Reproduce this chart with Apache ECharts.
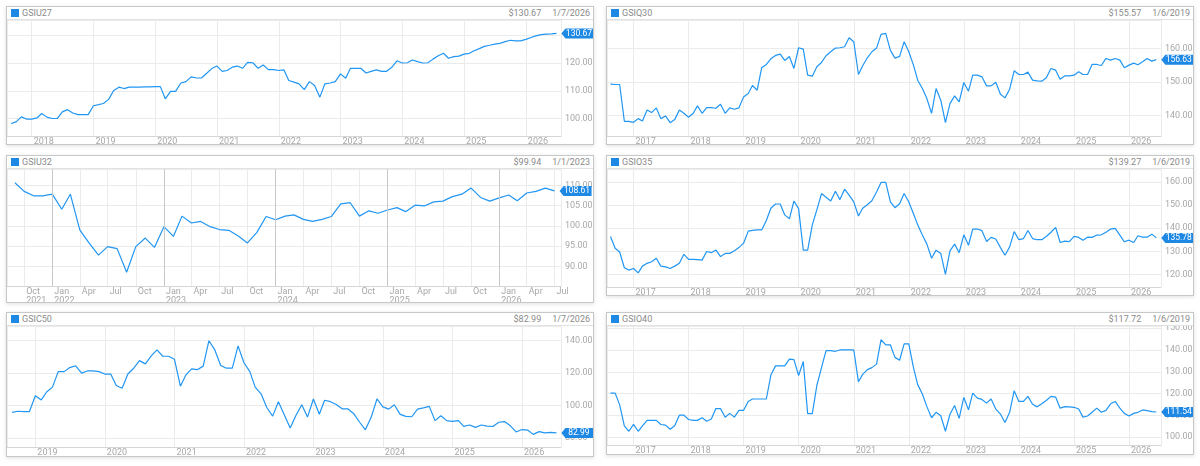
<!DOCTYPE html>
<html>
<head>
<meta charset="utf-8">
<script src="https://cdn.jsdelivr.net/npm/echarts@6/dist/echarts.min.js"></script>
<style>
  html, body { margin: 0; padding: 0; width: 1200px; height: 466px; overflow: hidden; background: #fff; font-family: Roboto, "Noto Sans", sans-serif; }
  .panel { position: absolute; box-sizing: border-box; border: 1px solid #c8c8c8; background: #fff; box-shadow: 0 1px 4px rgba(0,0,0,0.13); }
  .hd { position: relative; height: 12px; border-bottom: 1px solid #e2e2e2; font-size: 9px; line-height: 12px; color: #8a8a8a; }
  .sq { position: absolute; left: 4px; top: 2px; width: 8px; height: 8px; background: #1e88e5; }
  .nm { position: absolute; left: 15px; }
  .rt { position: absolute; right: 3px; }
  .rt span + span { margin-left: 11px; }
  .chart { position: absolute; left: 0; right: 0; bottom: 0; }
</style>
</head>
<body>
<script>
// ---- data (monthly closes) ----
const gsiu27Start = '2017-09';
const gsiu27Values = [
  98.2, 98.8, 100.6, 99.8,
  99.8, 100.2, 101.8, 100.5, 100.0, 100.0, 102.4, 103.2, 102.0, 101.4, 101.4, 101.4,
  104.6, 105.0, 105.4, 106.9, 110.1, 111.3, 110.8, 111.3, 111.3, 111.3, 111.4, 111.4,
  111.5, 111.5, 107.1, 109.8, 109.8, 112.8, 113.3, 115.0, 114.6, 114.6, 116.3, 118.0,
  118.9, 117.0, 117.3, 118.5, 118.9, 118.1, 120.2, 120.1, 118.1, 119.3, 117.6, 117.6,
  117.3, 117.5, 113.7, 113.1, 112.5, 110.4, 113.3, 111.9, 107.7, 112.5, 112.8, 113.3,
  116.1, 114.5, 118.1, 118.1, 118.1, 116.4, 117.0, 117.5, 117.0, 117.0, 118.5, 120.8,
  120.0, 120.1, 121.1, 120.5, 120.0, 120.1, 121.4, 122.6, 123.5, 121.7, 122.3, 122.5,
  123.2, 123.5, 124.4, 125.2, 126.0, 126.4, 126.8, 127.1, 127.7, 128.2, 128.0, 128.0,
  128.5, 129.2, 129.8, 130.2, 130.4, 130.5, 130.67
];

const gsiq30Start = '2016-08';
const gsiq30Values = [
  149.3, 149.2, 149.2, 138.2, 138.2,
  137.9, 139.0, 138.3, 141.6, 140.8, 142.2, 139.0, 139.8, 137.8, 138.7, 141.6, 140.6,
  139.4, 140.6, 142.8, 140.6, 142.3, 142.3, 142.1, 143.3, 140.6, 142.2, 141.8, 142.2,
  145.5, 146.5, 148.9, 147.5, 154.2, 155.2, 156.9, 157.9, 158.3, 156.4, 157.6, 154.0,
  160.2, 159.8, 152.0, 151.7, 154.5, 155.8, 157.8, 159.0, 160.1, 160.2, 160.5, 163.2,
  162.0, 152.2, 154.8, 157.2, 159.0, 160.1, 164.2, 164.5, 159.4, 157.1, 157.6, 162.0,
  159.0, 155.0, 150.5, 148.0, 145.0, 140.6, 148.0, 144.5, 137.8, 143.5, 145.8, 144.0,
  149.8, 147.2, 152.0, 152.0, 151.5, 148.8, 148.8, 149.9, 146.3, 145.2, 147.8, 153.3,
  152.2, 152.2, 152.9, 150.5, 150.3, 150.2, 151.2, 154.0, 153.5, 150.8, 151.8, 151.8,
  152.0, 153.0, 152.2, 152.2, 155.2, 155.2, 154.9, 157.0, 156.5, 157.0, 156.5, 154.2,
  155.0, 155.6, 155.1, 156.0, 157.0, 156.2, 156.63
];

const gsiu32Start = '2021-09';
const gsiu32Values = [
  110.6, 108.5, 107.4, 107.4,
  107.8, 104.1, 107.8, 99.0, 95.8, 92.8, 94.9, 94.4, 88.6, 94.9, 97.0, 94.7,
  99.8, 97.4, 102.4, 100.7, 101.1, 99.8, 99.1, 98.9, 97.5, 95.8, 98.4, 102.3,
  101.5, 102.4, 102.7, 101.6, 101.1, 101.6, 102.3, 105.4, 105.7, 102.4, 103.7, 103.1,
  103.9, 104.5, 103.5, 105.1, 104.9, 105.9, 106.1, 107.2, 107.8, 109.3, 107.0, 106.1,
  106.9, 107.6, 106.2, 108.1, 108.5, 109.3, 108.61
];
const gsiu32YearLines = ['2022-01-01', '2023-01-01', '2024-01-01', '2025-01-01', '2026-01-01'];

const gsio35Start = '2016-08';
const gsio35Values = [
  136.4, 131.3, 129.7, 122.9, 121.9,
  122.6, 120.7, 123.6, 124.8, 125.5, 127.0, 123.6, 123.3, 122.6, 123.6, 124.8, 128.7,
  126.5, 126.5, 126.4, 126.2, 129.9, 129.4, 130.6, 127.7, 129.1, 129.1, 130.2, 131.6,
  133.5, 138.7, 139.0, 139.2, 139.2, 143.3, 148.6, 150.4, 150.4, 145.7, 144.0, 151.7,
  148.4, 130.5, 130.5, 141.4, 147.9, 154.9, 153.3, 151.7, 155.9, 152.3, 156.8, 154.2,
  151.3, 145.2, 148.6, 150.1, 151.8, 155.6, 159.7, 159.7, 151.3, 148.8, 150.5, 154.9,
  151.3, 146.2, 141.4, 137.0, 133.1, 127.0, 130.5, 129.1, 120.0, 130.2, 133.1, 129.4,
  137.1, 132.6, 139.6, 139.6, 138.9, 134.2, 136.0, 135.3, 131.6, 128.3, 131.9, 138.5,
  135.0, 135.5, 139.0, 135.5, 135.0, 135.0, 136.4, 138.2, 140.3, 133.8, 134.4, 134.2,
  136.4, 136.0, 134.8, 136.1, 136.0, 137.0, 137.1, 138.2, 139.6, 139.9, 137.0, 134.1,
  134.8, 133.8, 136.7, 136.1, 136.1, 137.4, 135.78
];

const gsic50Start = '2018-09';
const gsic50Values = [
  95.7, 96.4, 96.2, 96.2,
  106.0, 103.4, 108.3, 111.3, 120.9, 120.9, 123.4, 124.5, 120.0, 121.3, 121.3, 120.9,
  119.4, 119.4, 112.3, 110.6, 119.4, 123.0, 127.7, 125.7, 130.6, 134.3, 130.4, 130.4,
  128.5, 111.9, 118.7, 122.6, 122.1, 124.3, 140.0, 134.3, 124.7, 123.0, 123.0, 136.8,
  126.4, 120.9, 111.3, 107.2, 98.7, 93.4, 102.3, 94.3, 86.0, 93.8, 100.4, 92.8,
  104.0, 94.5, 103.2, 102.3, 100.6, 97.9, 97.9, 94.9, 89.6, 84.9, 92.8, 104.0,
  99.1, 97.7, 100.4, 94.5, 93.2, 93.0, 97.7, 98.5, 99.4, 90.6, 93.6, 90.6,
  90.2, 90.6, 87.0, 87.9, 86.4, 87.9, 87.2, 87.0, 89.6, 90.0, 87.4, 83.6,
  85.1, 84.7, 82.1, 83.8, 83.0, 83.4, 82.99
];

const gsio40Start = '2016-08';
const gsio40Values = [
  120.2, 120.2, 114.8, 105.2, 102.7,
  105.9, 102.7, 105.2, 107.7, 107.7, 107.7, 105.8, 105.5, 103.6, 105.2, 110.1, 110.1,
  108.1, 107.7, 107.7, 108.9, 107.3, 108.3, 113.1, 113.1, 109.1, 110.9, 109.2, 112.3,
  112.3, 116.4, 117.5, 117.5, 117.5, 117.5, 128.5, 132.7, 132.7, 132.7, 135.8, 135.6,
  128.3, 134.7, 110.8, 110.8, 123.7, 131.9, 139.7, 139.7, 139.4, 140.0, 140.0, 140.0,
  140.0, 125.4, 128.8, 131.0, 131.9, 133.5, 144.7, 142.3, 142.3, 136.6, 135.3, 142.8,
  142.8, 131.9, 124.1, 119.8, 114.0, 108.9, 111.4, 109.8, 102.7, 110.5, 114.5, 108.6,
  118.2, 112.5, 120.2, 117.9, 117.3, 115.6, 117.5, 112.9, 110.6, 106.7, 111.4, 121.3,
  116.4, 116.4, 118.7, 115.1, 113.9, 115.3, 116.8, 118.7, 118.4, 113.3, 114.0, 113.9,
  113.7, 112.9, 109.2, 109.7, 111.4, 113.3, 111.4, 112.3, 115.3, 116.4, 113.3, 110.9,
  109.7, 110.9, 111.4, 112.5, 112.2, 111.7, 111.54
];

// header texts
const names  = ['GSIU27', 'GSIQ30', 'GSIU32', 'GSIO35', 'GSIC50', 'GSIO40'];
const prices = ['$130.67', '$155.57', '$99.94', '$139.27', '$82.99', '$117.72'];
const dates  = ['1/7/2026', '1/6/2019', '1/1/2023', '1/6/2019', '1/7/2026', '1/6/2019'];

// ---- panels ----
const BLUE = '#2196f3';
const DAY = 864e5;
const MON = ['Jan', 'Feb', 'Mar', 'Apr', 'May', 'Jun', 'Jul', 'Aug', 'Sep', 'Oct', 'Nov', 'Dec'];

function monthly(start, values) {
  const [y, m] = start.split('-').map(Number);
  return values.map((v, i) => [new Date(y, m - 1 + i, 1).getTime(), v]);
}

const panels = [
  { values: gsiu27Values, start: gsiu27Start, left: 6,   top: 6,   h: 139, bottom: 8,  xmin: '2017-08-08', xmax: '2026-07-28', ymin: 93.7,  ymax: 135.5, split: 4 },
  { values: gsiq30Values, start: gsiq30Start, left: 606, top: 6,   h: 139, bottom: 8,  xmin: '2016-07-09', xmax: '2026-08-01', ymin: 133.8, ymax: 168.5, split: 4 },
  { values: gsiu32Values, start: gsiu32Start, left: 6,   top: 155, h: 148, bottom: 16, xmin: '2021-08-06', xmax: '2026-07-22', ymin: 85.2,  ymax: 114.0, split: 5, quarterly: true },
  { values: gsio35Values, start: gsio35Start, left: 606, top: 155, h: 141, bottom: 8,  xmin: '2016-07-09', xmax: '2026-08-01', ymin: 114.6, ymax: 165.5, split: 5 },
  { values: gsic50Values, start: gsic50Start, left: 6,   top: 312, h: 145, bottom: 9,  xmin: '2018-08-05', xmax: '2026-07-25', ymin: 74.3,  ymax: 149.1, split: 4 },
  { values: gsio40Values, start: gsio40Start, left: 606, top: 312, h: 143, bottom: 9,  xmin: '2016-07-09', xmax: '2026-08-01', ymin: 96.4,  ymax: 151.0, split: 5 }
];

panels.forEach((p, k) => {
  const box = document.createElement('div');
  box.className = 'panel';
  box.style.cssText = `left:${p.left}px;top:${p.top}px;width:588px;height:${p.h}px;`;
  box.innerHTML = `<div class="hd"><span class="sq"></span><span class="nm">${names[k]}</span>` +
    `<span class="rt"><span>${prices[k]}</span><span>${dates[k]}</span></span></div>`;
  const el = document.createElement('div');
  el.className = 'chart';
  el.style.height = (p.h - 2 - 13) + 'px';
  box.appendChild(el);
  document.body.appendChild(box);

  const data = monthly(p.start, p.values);
  const last = data[data.length - 1];
  const xMin = new Date(p.xmin + 'T00:00:00').getTime();

  const fmtX = function (val) {
    const d = new Date(val);
    if (d.getDate() !== 1 || d.getHours() !== 0) return '';
    const m = d.getMonth();
    if (!p.quarterly) return m === 0 ? String(d.getFullYear()) : '';
    if (m % 3) return '';
    return (m === 0 || val - xMin < 100 * DAY) ? MON[m] + '\n' + d.getFullYear() : MON[m];
  };

  const chart = echarts.init(el, null, { renderer: 'canvas' });
  chart.setOption({
    animation: false,
    grid: { left: 0, right: 32, top: 0, bottom: p.bottom, outerBoundsMode: 'none', containLabel: false },
    xAxis: {
      type: 'time',
      min: xMin,
      max: new Date(p.xmax + 'T00:00:00').getTime(),
      minInterval: p.quarterly ? 95 * DAY : 530 * DAY,
      maxInterval: p.quarterly ? 95 * DAY : 530 * DAY,
      axisLine: { show: true, lineStyle: { color: '#d6d6d6', width: 1 } },
      axisTick: { show: false },
      splitLine: { show: true, lineStyle: { color: '#ebebeb', width: 1 } },
      axisLabel: {
        formatter: fmtX, color: '#a8a8a8', fontSize: 9, fontFamily: 'Roboto',
        align: 'left', padding: [0, 0, 0, 2], margin: 1, lineHeight: 9,
        showMinLabel: false, showMaxLabel: false, hideOverlap: false
      }
    },
    yAxis: {
      type: 'value',
      position: 'right',
      min: p.ymin,
      max: p.ymax,
      splitNumber: p.split,
      axisLine: { show: false },
      axisTick: { show: false },
      splitLine: { lineStyle: { color: '#ebebeb', width: 1 } },
      axisLabel: {
        formatter: v => v.toFixed(2), color: '#a8a8a8', fontSize: 9, fontFamily: 'Roboto',
        margin: 4, showMinLabel: false, showMaxLabel: false
      }
    },
    series: [{
      type: 'line',
      data: data,
      showSymbol: false,
      lineStyle: { color: BLUE, width: 1.2 },
      itemStyle: { color: BLUE },
      silent: true,
      markLine: p.quarterly ? {
        silent: true, symbol: 'none', animation: false,
        lineStyle: { color: '#c8c8c8', width: 1, type: 'solid' },
        label: { show: false },
        data: gsiu32YearLines.map(s => ({ xAxis: new Date(s + 'T00:00:00').getTime() }))
      } : undefined,
      markPoint: {
        silent: true, animation: false,
        symbol: 'path://M0,6L5,0L40,0L40,12L5,12Z',
        symbolSize: [32, 10],
        symbolKeepAspect: false,
        symbolOffset: [21, 0],
        itemStyle: { color: '#1e88e5' },
        label: { show: true, color: '#fff', fontSize: 8.5, fontFamily: 'Roboto', offset: [1.5, 0], formatter: () => last[1].toFixed(2) },
        data: [{ coord: last, value: last[1] }]
      }
    }]
  });
});
</script>
</body>
</html>
